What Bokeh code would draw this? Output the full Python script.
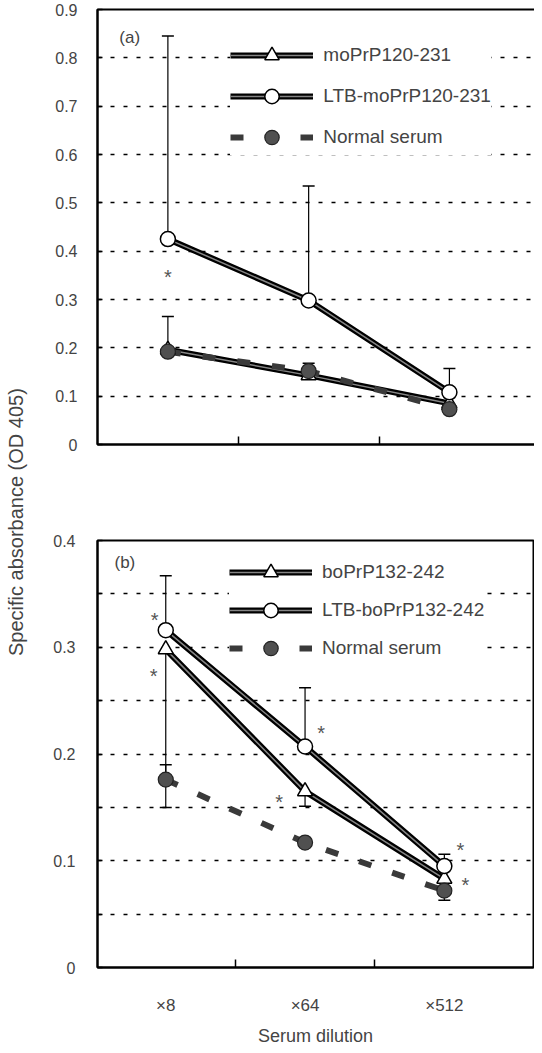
import math
from bokeh.plotting import figure
from bokeh.models import (Range1d, FixedTicker, LinearAxis, Legend, LegendItem,
                          Label, ColumnDataSource, Grid)
from bokeh.layouts import row, column
from bokeh.embed import file_html
from bokeh.resources import INLINE

FONT = "Liberation Sans"

# ---------------- data ----------------
dilutions = ["\u00d78", "\u00d764", "\u00d7512"]
xs = [0, 1, 2]
x_boundaries = [0.5, 1.5]

# panel (a)
a_names = ["moPrP120-231", "LTB-moPrP120-231", "Normal serum"]
a_mo = [0.196, 0.143, 0.085]
a_ltb = [0.425, 0.298, 0.108]
a_norm = [0.192, 0.152, 0.073]
a_mo_err_hi = [0.265, 0.168, None]
a_ltb_err_hi = [0.845, 0.535, 0.157]
a_star_x = [0]
a_star_y = [0.356]
a_yticks = [0, 0.1, 0.2, 0.3, 0.4, 0.5, 0.6, 0.7, 0.8, 0.9]
a_ylabels = ["0", "0.1", "0.2", "0.3", "0.4", "0.5", "0.6", "0.7", "0.8", "0.9"]
a_grid = [0.1, 0.2, 0.3, 0.4, 0.5, 0.6, 0.7, 0.8]

# panel (b)
b_names = ["boPrP132-242", "LTB-boPrP132-242", "Normal serum"]
b_bo = [0.298, 0.165, 0.083]
b_ltb = [0.316, 0.207, 0.095]
b_norm = [0.176, 0.117, 0.072]
b_bo_err_lo = [0.150, 0.151, None]
b_ltb_err_hi = [0.367, 0.262, 0.106]
b_norm_err_hi = [0.190, None, None]
b_norm_err_lo = [None, None, 0.063]
b_star_x = [0, 0, 1, 1, 2, 2]
b_star_y = [0.330, 0.278, 0.224, 0.160, 0.115, 0.082]
b_yticks = [0, 0.05, 0.1, 0.15, 0.2, 0.25, 0.3, 0.35, 0.4]
b_ylabels = ["0", "", "0.1", "", "0.2", "", "0.3", "", "0.4"]
b_grid = [0.05, 0.1, 0.15, 0.2, 0.25, 0.3, 0.35]

# star horizontal pixel offsets (styling)
a_star_dx = [0]
b_star_dx = [-11, -12, 16, -26, 16, 21]


def error_bars(p, base, ends):
    x0, y0, y1 = [], [], []
    for x, b, e in zip(xs, base, ends):
        if e is not None:
            x0.append(x); y0.append(b); y1.append(e)
    p.segment(x0=x0, y0=y0, x1=x0, y1=y1, line_color="black", line_width=1.2)
    p.scatter(x=x0, y=y1, marker="dash", size=12, line_color="black", line_width=1.5)


def make_panel(ymax, yticks, ylabels, grid_vals, s_tri, s_circ, s_norm, names,
               errs, star_x, star_y, star_dx, tag, tag_xy, legend_loc, legend_spacing,
               frame_w, frame_h, left, top, bottom, right, x_start, label_std, show_x):
    p = figure(frame_width=frame_w, frame_height=frame_h,
               min_border_left=left, min_border_right=right,
               min_border_top=top, min_border_bottom=bottom,
               x_range=Range1d(x_start, 2.64), y_range=Range1d(0, ymax),
               x_axis_type=None, y_axis_type=None,
               output_backend="svg", toolbar_location=None)
    p.outline_line_color = "black"
    p.outline_line_width = 2
    p.add_layout(Grid(dimension=1, ticker=FixedTicker(ticks=grid_vals),
                      grid_line_color="black", grid_line_dash="4 9",
                      grid_line_width=1.5))

    ya = LinearAxis(ticker=FixedTicker(ticks=yticks),
                    major_label_overrides=dict(zip(yticks, ylabels)),
                    major_tick_in=5, major_tick_out=0, major_tick_line_width=1.5,
                    major_label_standoff=label_std, axis_line_width=2,
                    major_label_text_font=FONT, major_label_text_font_size="16px")
    p.add_layout(ya, "left")

    xa = LinearAxis(ticker=FixedTicker(ticks=x_boundaries),
                    major_label_overrides={0.5: "", 1.5: ""},
                    major_tick_in=8, major_tick_out=0, major_tick_line_width=1.5,
                    major_label_standoff=0, major_label_text_font_size="1px",
                    axis_line_width=2)
    p.add_layout(xa, "below")
    if show_x:
        xl = LinearAxis(ticker=FixedTicker(ticks=xs),
                        major_label_overrides=dict(zip(xs, dilutions)),
                        major_tick_in=0, major_tick_out=0, axis_line_color=None,
                        major_label_standoff=28, major_label_text_font=FONT,
                        major_label_text_font_size="17px",
                        axis_label="Serum dilution", axis_label_standoff=8,
                        axis_label_text_font=FONT, axis_label_text_font_size="18px",
                        axis_label_text_font_style="normal")
        p.add_layout(xl, "below")

    for base, ends in errs:
        error_bars(p, base, ends)

    tri_l1 = p.line(xs, s_tri, line_color="black", line_width=6)
    tri_l2 = p.line(xs, s_tri, line_color="#858585", line_width=1.5)
    cir_l1 = p.line(xs, s_circ, line_color="black", line_width=6)
    cir_l2 = p.line(xs, s_circ, line_color="#858585", line_width=1.5)
    nor_l = p.line(xs, s_norm, line_color="#3a3a3a", line_width=6, line_dash="13 22")
    tri_m = p.scatter(xs, s_tri, marker="triangle", size=15, fill_color="white",
                      line_color="black", line_width=1.5)
    nor_m = p.scatter(xs, s_norm, marker="circle", size=15, fill_color="#505050",
                      line_color="#222222", line_width=1.2)
    cir_m = p.scatter(xs, s_circ, marker="circle", size=15, fill_color="white",
                      line_color="black", line_width=1.5)

    src = ColumnDataSource(dict(x=star_x, y=star_y, t=["*"] * len(star_x), dx=star_dx))
    p.text(x="x", y="y", text="t", x_offset="dx", y_offset=5, source=src,
           text_align="center", text_baseline="middle", text_color="#555555",
           text_font_size="20px")

    p.add_layout(Label(x=tag_xy[0], y=tag_xy[1], text=tag, text_font=FONT,
                       text_font_size="17px", text_baseline="middle"))

    items = [LegendItem(label=names[0], renderers=[tri_l1, tri_l2, tri_m]),
             LegendItem(label=names[1], renderers=[cir_l1, cir_l2, cir_m]),
             LegendItem(label=names[2], renderers=[nor_l, nor_m])]
    leg = Legend(items=items, location=legend_loc, glyph_width=83, glyph_height=36,
                 label_height=36, label_standoff=10, spacing=legend_spacing,
                 padding=5, margin=0, border_line_color=None,
                 background_fill_color="white", background_fill_alpha=1,
                 label_text_font=FONT, label_text_font_size="19px")
    p.add_layout(leg)
    return p


top = make_panel(0.9, a_yticks, a_ylabels, a_grid, a_mo, a_ltb, a_norm, a_names,
                 [(a_ltb, a_ltb_err_hi), (a_mo, a_mo_err_hi)],
                 a_star_x, a_star_y, a_star_dx, "(a)", (-0.345, 0.842),
                 (143, 289), 5, 442, 435, 50, 9, 83, 2, -0.5, 20, False)

bottom = make_panel(0.4, b_yticks, b_ylabels, b_grid, b_bo, b_ltb, b_norm, b_names,
                    [(b_ltb, b_ltb_err_hi), (b_bo, b_bo_err_lo),
                     (b_norm, b_norm_err_hi), (b_norm, b_norm_err_lo)],
                    b_star_x, b_star_y, b_star_dx, "(b)", (-0.368, 0.379),
                    (132, 301), 2, 436, 427, 57, 13, 70, 1, -0.49, 22, True)

lab = figure(width=40, height=1037, x_range=Range1d(0, 1), y_range=Range1d(0, 1),
             min_border=0, x_axis_type=None, y_axis_type=None,
             output_backend="svg", toolbar_location=None)
lab.outline_line_color = None
lab.add_layout(Label(x=0.375, y=0.497, text="Specific absorbance (OD 405)",
                     angle=math.pi / 2, text_align="center", text_baseline="middle",
                     text_font=FONT, text_font_size="20px"))

layout = row(lab, column(top, bottom))
open("out.html", "w").write(file_html(layout, INLINE))
